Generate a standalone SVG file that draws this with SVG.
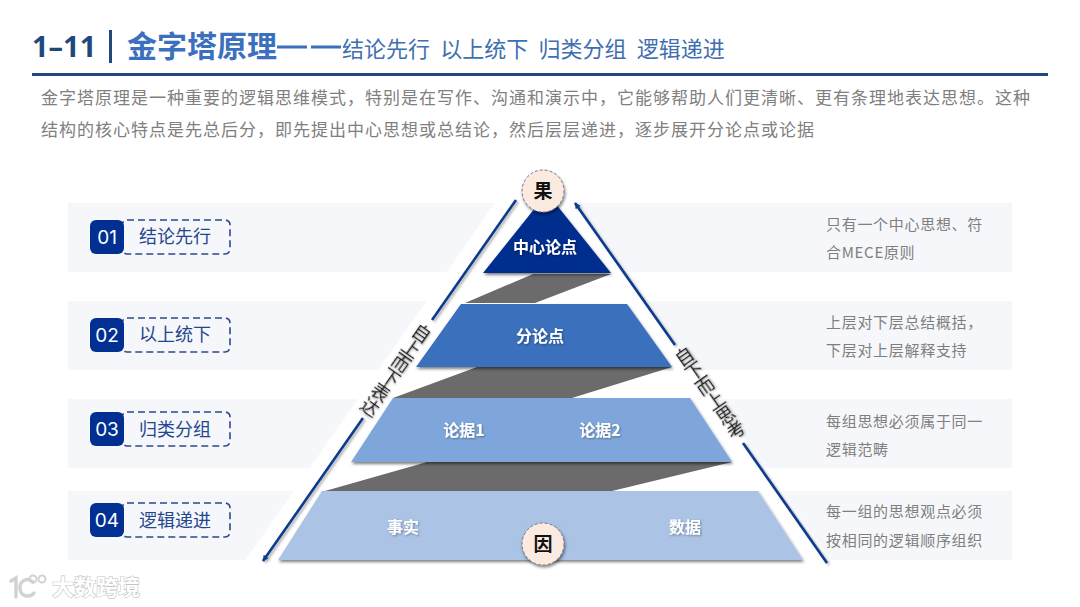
<svg xmlns="http://www.w3.org/2000/svg" width="1080" height="607" viewBox="0 0 1080 607">
<defs>
<style>
text{font-family:"Noto Sans CJK SC","Noto Sans",sans-serif}
.band{fill:#f6f7fa}
.badge{fill:#012f92}
.dash{fill:none;stroke:#2b4a8b;stroke-width:1.6;stroke-dasharray:7 4}
.num{font-family:"Inter","Liberation Sans",sans-serif;font-size:19px;fill:#fff;text-anchor:middle}
.lab{font-size:18px;fill:#24468f;text-anchor:middle}
.note{font-size:15px;fill:#7f7f7f;letter-spacing:.7px}
.para{font-size:17px;fill:#808080;letter-spacing:1px}
.tier{font-size:16px;font-weight:700;fill:#fff;text-anchor:middle;filter:url(#ts)}
.gray{fill:#6b6b6b}
.line{fill:none;stroke:#0b3a8e;stroke-width:2.6;filter:url(#ls)}
.side{font-size:18px;fill:#1f1f1f;writing-mode:vertical-rl;text-anchor:middle;filter:url(#ts)}
.cap{fill:#fbeadf;stroke:#77778c;stroke-width:1;stroke-dasharray:3 2;filter:url(#sh)}
.capt{font-size:19px;font-weight:700;fill:#111;text-anchor:middle}
</style>
<filter id="sh" x="-20%" y="-20%" width="140%" height="150%"><feDropShadow dx="1" dy="2" stdDeviation="1.5" flood-color="#000" flood-opacity=".5"/></filter>
<filter id="ts" x="-30%" y="-30%" width="160%" height="160%"><feDropShadow dx="1" dy="1" stdDeviation=".8" flood-color="#000" flood-opacity=".35"/></filter>
<filter id="ls" x="-20%" y="-20%" width="140%" height="140%"><feDropShadow dx="2" dy="1.5" stdDeviation="1.2" flood-color="#000" flood-opacity=".3"/></filter>
<marker id="arr" markerWidth="7" markerHeight="7" refX="5.5" refY="3" orient="auto" markerUnits="userSpaceOnUse"><path d="M0 0L6 3L0 6Z" fill="#0b3a8e"/></marker>
</defs>
<rect width="1080" height="607" fill="#fff"/>
<g id="header">
<text x="32" y="57" style="font-family:'Noto Sans','Liberation Sans',sans-serif" font-size="29" font-weight="700" fill="#1f497d">1–11</text>
<rect x="109" y="30" width="3" height="33" fill="#1f497d"/>
<text x="127" y="57" font-size="30" font-weight="700" fill="#3b70be">金字塔原理</text>
<rect x="277" y="45.500" width="30" height="3" fill="#3b70be"/><rect x="311" y="45.500" width="30" height="3" fill="#3b70be"/>
<text x="342" y="57" font-size="22" fill="#3f6fb0" word-spacing="5.300">结论先行 以上统下 归类分组 逻辑递进</text>
<rect x="32" y="73" width="1016" height="3" fill="#1f497d"/>
<text class="para" x="41" y="104">金字塔原理是一种重要的逻辑思维模式，特别是在写作、沟通和演示中，它能够帮助人们更清晰、更有条理地表达思想。这种</text>
<text class="para" x="41" y="136">结构的核心特点是先总后分，即先提出中心思想或总结论，然后层层递进，逐步展开分论点或论据</text>
</g>
<g id="bands">
<rect class="band" x="68" y="203" width="944" height="69"/>
<rect class="band" x="68" y="301" width="944" height="69"/>
<rect class="band" x="68" y="399" width="944" height="69"/>
<rect class="band" x="68" y="491" width="944" height="69"/>
<polygon points="497,200 577,200 834,565 242,565" fill="#fff"/>
</g>
<g id="row1"><rect class="dash" x="122" y="220" width="108" height="34" rx="5"/><rect class="badge" x="90" y="220" width="34" height="34" rx="6"/><text class="num" x="107" y="243.500">01</text><text class="lab" x="175" y="243">结论先行</text><text class="note" x="826" y="230">只有一个中心思想、符</text><text class="note" x="826" y="258">合MECE原则</text></g>
<g id="row2"><rect class="dash" x="122" y="318" width="108" height="34" rx="5"/><rect class="badge" x="90" y="318" width="34" height="34" rx="6"/><text class="num" x="107" y="341.500">02</text><text class="lab" x="175" y="341">以上统下</text><text class="note" x="826" y="328">上层对下层总结概括，</text><text class="note" x="826" y="356">下层对上层解释支持</text></g>
<g id="row3"><rect class="dash" x="122" y="412" width="108" height="34" rx="5"/><rect class="badge" x="90" y="412" width="34" height="34" rx="6"/><text class="num" x="107" y="435.500">03</text><text class="lab" x="175" y="435.500">归类分组</text><text class="note" x="826" y="427">每组思想必须属于同一</text><text class="note" x="826" y="455">逻辑范畴</text></g>
<g id="row4"><rect class="dash" x="122" y="503" width="108" height="34" rx="5"/><rect class="badge" x="90" y="503" width="34" height="34" rx="6"/><text class="num" x="107" y="526.500">04</text><text class="lab" x="175" y="526.500">逻辑递进</text><text class="note" x="826" y="517">每一组的思想观点必须</text><text class="note" x="826" y="546">按相同的逻辑顺序组织</text></g>
<g id="connectors">
<polygon class="gray" points="533,274 611,274 535,303 465,303"/>
<polygon class="gray" points="477,367 672,367 572,398 393,398"/>
<polygon class="gray" points="427,462 732,462 612,491 325,491"/>
<path class="line" d="M516 200L432 320"/>
<path class="line" d="M363 418L263 561" marker-end="url(#arr)"/>
<path class="line" d="M675 345L575 203" marker-end="url(#arr)"/>
<path class="line" d="M743 443L827 563"/>
<text class="side" transform="translate(396 370) rotate(35)">自上而下表达</text>
<text class="side" transform="translate(710 393) rotate(-35)">自下而上思考</text>
</g>
<g id="tier1"><polygon points="547,193 611,273 483,273" fill="#012f8f" filter="url(#sh)"/><text class="tier" x="545" y="253">中心论点</text></g>
<g id="tier2"><polygon points="461,304 627,304 672,367 416,367" fill="#3b6fbd" filter="url(#sh)"/><text class="tier" x="540" y="342">分论点</text></g>
<g id="tier3"><polygon points="393,398 690,398 732,462 351,462" fill="#7fa6da" filter="url(#sh)"/><text class="tier" x="464" y="436">论据1</text><text class="tier" x="600" y="436">论据2</text></g>
<g id="tier4"><polygon points="322,491 758,491 803,560 278,560" fill="#abc3e4" filter="url(#sh)"/><text class="tier" x="403" y="533">事实</text><text class="tier" x="685" y="533">数据</text></g>
<g id="node-guo"><circle class="cap" cx="543" cy="191" r="21"/><text class="capt" x="543" y="198">果</text></g>
<g id="node-yin"><circle class="cap" cx="543" cy="544" r="21"/><text class="capt" x="543" y="551">因</text></g>
<g id="watermark">
<path d="M11 581L16 578V597M33 582C26 576 19 582 20 589C21 597 30 598 34 593" fill="none" stroke="#d2d2d2" stroke-width="3.500" stroke-linecap="round"/>
<circle cx="33" cy="579" r="3.500" fill="none" stroke="#d2d2d2" stroke-width="2"/><circle cx="42" cy="579" r="3.500" fill="none" stroke="#d2d2d2" stroke-width="2"/>
<text x="52" y="595" font-size="22" font-weight="700" fill="#fff" stroke="#c4c4c4" stroke-width="1.200" paint-order="stroke">大数跨境</text>
</g>
</svg>
